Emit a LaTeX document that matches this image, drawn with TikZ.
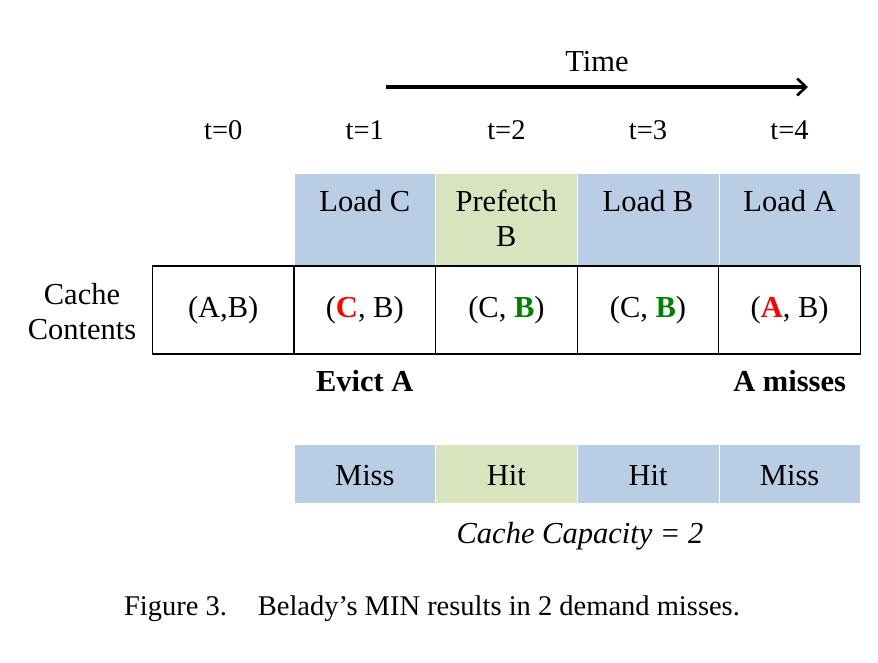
\documentclass[tikz,border=0pt]{standalone}
\usepackage{fontspec}
\setmainfont{Liberation Serif}
\usetikzlibrary{arrows.meta}
\definecolor{cblue}{HTML}{B9CDE5}
\definecolor{cgreen}{HTML}{D7E4BD}
\definecolor{cred}{HTML}{FF0000}
\definecolor{cgrn}{HTML}{008000}
\begin{document}
\begin{tikzpicture}[x=1pt,y=-1pt,
  lbl/.style={inner sep=0pt,font=\fontsize{30.5}{35}\selectfont,align=center},
  tlbl/.style={inner sep=0pt,font=\fontsize{28.5}{34}\selectfont},
  topcell/.style={minimum width=141.6pt,minimum height=93pt,inner sep=0pt,draw=white,line width=0.4pt},
  botcell/.style={minimum width=141.6pt,minimum height=59pt,inner sep=0pt,draw=white,line width=0.4pt},
  cachecell/.style={minimum width=141.6pt,minimum height=88pt,inner sep=0pt,draw=black,line width=1.3pt,font=\fontsize{30.5}{35}\selectfont},
  bolded/.style={inner sep=0pt,font=\fontsize{30.5}{35}\selectfont\bfseries}]
\useasboundingbox (0,0) rectangle (878,662);
% top row
\node[topcell,fill=cblue]  (top1) at (364.8,219.5) {};
\node[topcell,fill=cgreen] (top2) at (506.4,219.5) {};
\node[topcell,fill=cblue]  (top3) at (648.0,219.5) {};
\node[topcell,fill=cblue]  (top4) at (789.6,219.5) {};
\node[lbl] (tl1) at (364.8,201) {Load C};
\node[lbl] (tl2) at (506.4,218) {Prefetch\\B};
\node[lbl] (tl3) at (648.0,201) {Load B};
\node[lbl] (tl4) at (789.6,201) {Load A};
% cache row
\node[cachecell] (c0) at (223.2,310) {(A,B)};
\node[cachecell] (c1) at (364.8,310) {(\textcolor{cred}{\textbf{C}}, B)};
\node[cachecell] (c2) at (506.4,310) {(C, \textcolor{cgrn}{\textbf{B}})};
\node[cachecell] (c3) at (648.0,310) {(C, \textcolor{cgrn}{\textbf{B}})};
\node[cachecell] (c4) at (789.6,310) {(\textcolor{cred}{\textbf{A}}, B)};
\node[lbl] (cc) at (82,312) {Cache\\Contents};
% time
\node[lbl] (time) at (597,62) {Time};
\coordinate (ts) at (386,87);
\coordinate (te) at (808,87);
\draw[line width=3.2pt,-{Straight Barb[length=9pt,width=17pt,line width=2.6pt]}] (ts) -- (te);
\node[tlbl] (t0) at (223.2,130) {t=0};
\node[tlbl] (t1) at (364.8,130) {t=1};
\node[tlbl] (t2) at (506.4,130) {t=2};
\node[tlbl] (t3) at (648.0,130) {t=3};
\node[tlbl] (t4) at (789.6,130) {t=4};
% notes
\node[bolded] (ev) at (364.8,381) {Evict A};
\node[bolded] (am) at (789.6,381) {A misses};
% bottom row
\node[botcell,fill=cblue]  (b1) at (364.8,473.5) {};
\node[botcell,fill=cgreen] (b2) at (506.4,473.5) {};
\node[botcell,fill=cblue]  (b3) at (648.0,473.5) {};
\node[botcell,fill=cblue]  (b4) at (789.6,473.5) {};
\node[lbl] (bl1) at (364.8,476) {Miss};
\node[lbl] (bl2) at (506.4,476) {Hit};
\node[lbl] (bl3) at (648.0,476) {Hit};
\node[lbl] (bl4) at (789.6,476) {Miss};
\node[lbl,font=\fontsize{30.5}{35}\selectfont\itshape] (cap) at (580,536) {Cache Capacity = 2};
\node[lbl,font=\fontsize{28.5}{33}\selectfont] (fig) at (432,609) {Figure 3.\hspace{0.75em} Belady’s MIN results in 2 demand misses.};
\end{tikzpicture}
\end{document}
